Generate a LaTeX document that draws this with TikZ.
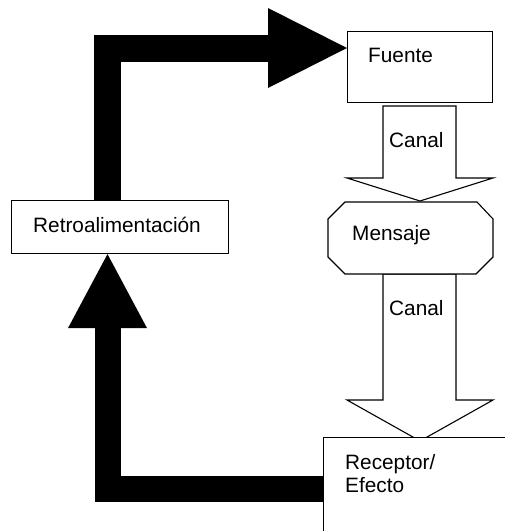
\documentclass[tikz,border=0pt]{standalone}
\usepackage{fontspec}
\setmainfont{Liberation Sans}
\usetikzlibrary{arrows.meta}
\begin{document}
\begin{tikzpicture}[x=1pt,y={(0pt,-1pt)},
  box/.style={draw, line width=1.1pt, fill=white, inner sep=0pt, anchor=north west},
  lbl/.style={anchor=base west, inner sep=0pt, font=\fontsize{20.8}{23}\selectfont},
  hollow/.style={draw, line width=1.1pt, fill=white, line join=miter},
  bigarrowup/.style={line width=27pt, line join=miter, -{Triangle[length=79pt,width=80pt,line width=0pt]}},
  bigarrowlo/.style={line width=26pt, line join=miter, -{Triangle[length=74pt,width=79pt,line width=0pt]}}]
\useasboundingbox (0,0) rectangle (505,531);

% boxes
\node[box, minimum width=145pt, minimum height=71pt] (fuente) at (347,31) {};
\node[box, minimum width=217pt, minimum height=53pt] (retro) at (11,200) {};

% black feedback arrows
\coordinate (lx) at (107.5,0);
\coordinate (ty) at (0,48);
\coordinate (by) at (0,489);
\coordinate (recw) at (323,489);
\draw[bigarrowup] (retro.north -| lx) |- (fuente.west |- ty);
\draw[bigarrowlo] (recw) -| (retro.south -| lx);

% redraw boxes on top
\node[box, minimum width=145pt, minimum height=71pt] at (347,31) {};
\node[box, minimum width=217pt, minimum height=53pt] at (11,200) {};

% hollow channel arrows
\draw[hollow] (383,106) -- (383,178) -- (347,178) -- (420,201) -- (493,178) -- (456,178) -- (456,106) -- cycle;
\draw[hollow] (383,274) -- (383,400) -- (347,400) -- (420,441) -- (493,400) -- (456,400) -- (456,274) -- cycle;

% message octagon
\draw[hollow] (345,202) -- (477,202) -- (493,219) -- (493,257) -- (476,274) -- (345,274) -- (328,257) -- (328,219) -- cycle;

% receptor box
\node[box, minimum width=200pt, minimum height=110pt] (receptor) at (323,437) {};

% texts
\node[lbl] (tf) at (368,62) {Fuente};
\node[lbl] (tc1) at (389,147) {Canal};
\node[lbl] (tm) at (352,240) {Mensaje};
\node[lbl] (tc2) at (389,315) {Canal};
\node[lbl] (tr) at (33,232) {Retroalimentación};
\node[lbl] (tr1) at (345,469) {Receptor/};
\node[lbl] (tr2) at (345,492) {Efecto};
\end{tikzpicture}
\end{document}
